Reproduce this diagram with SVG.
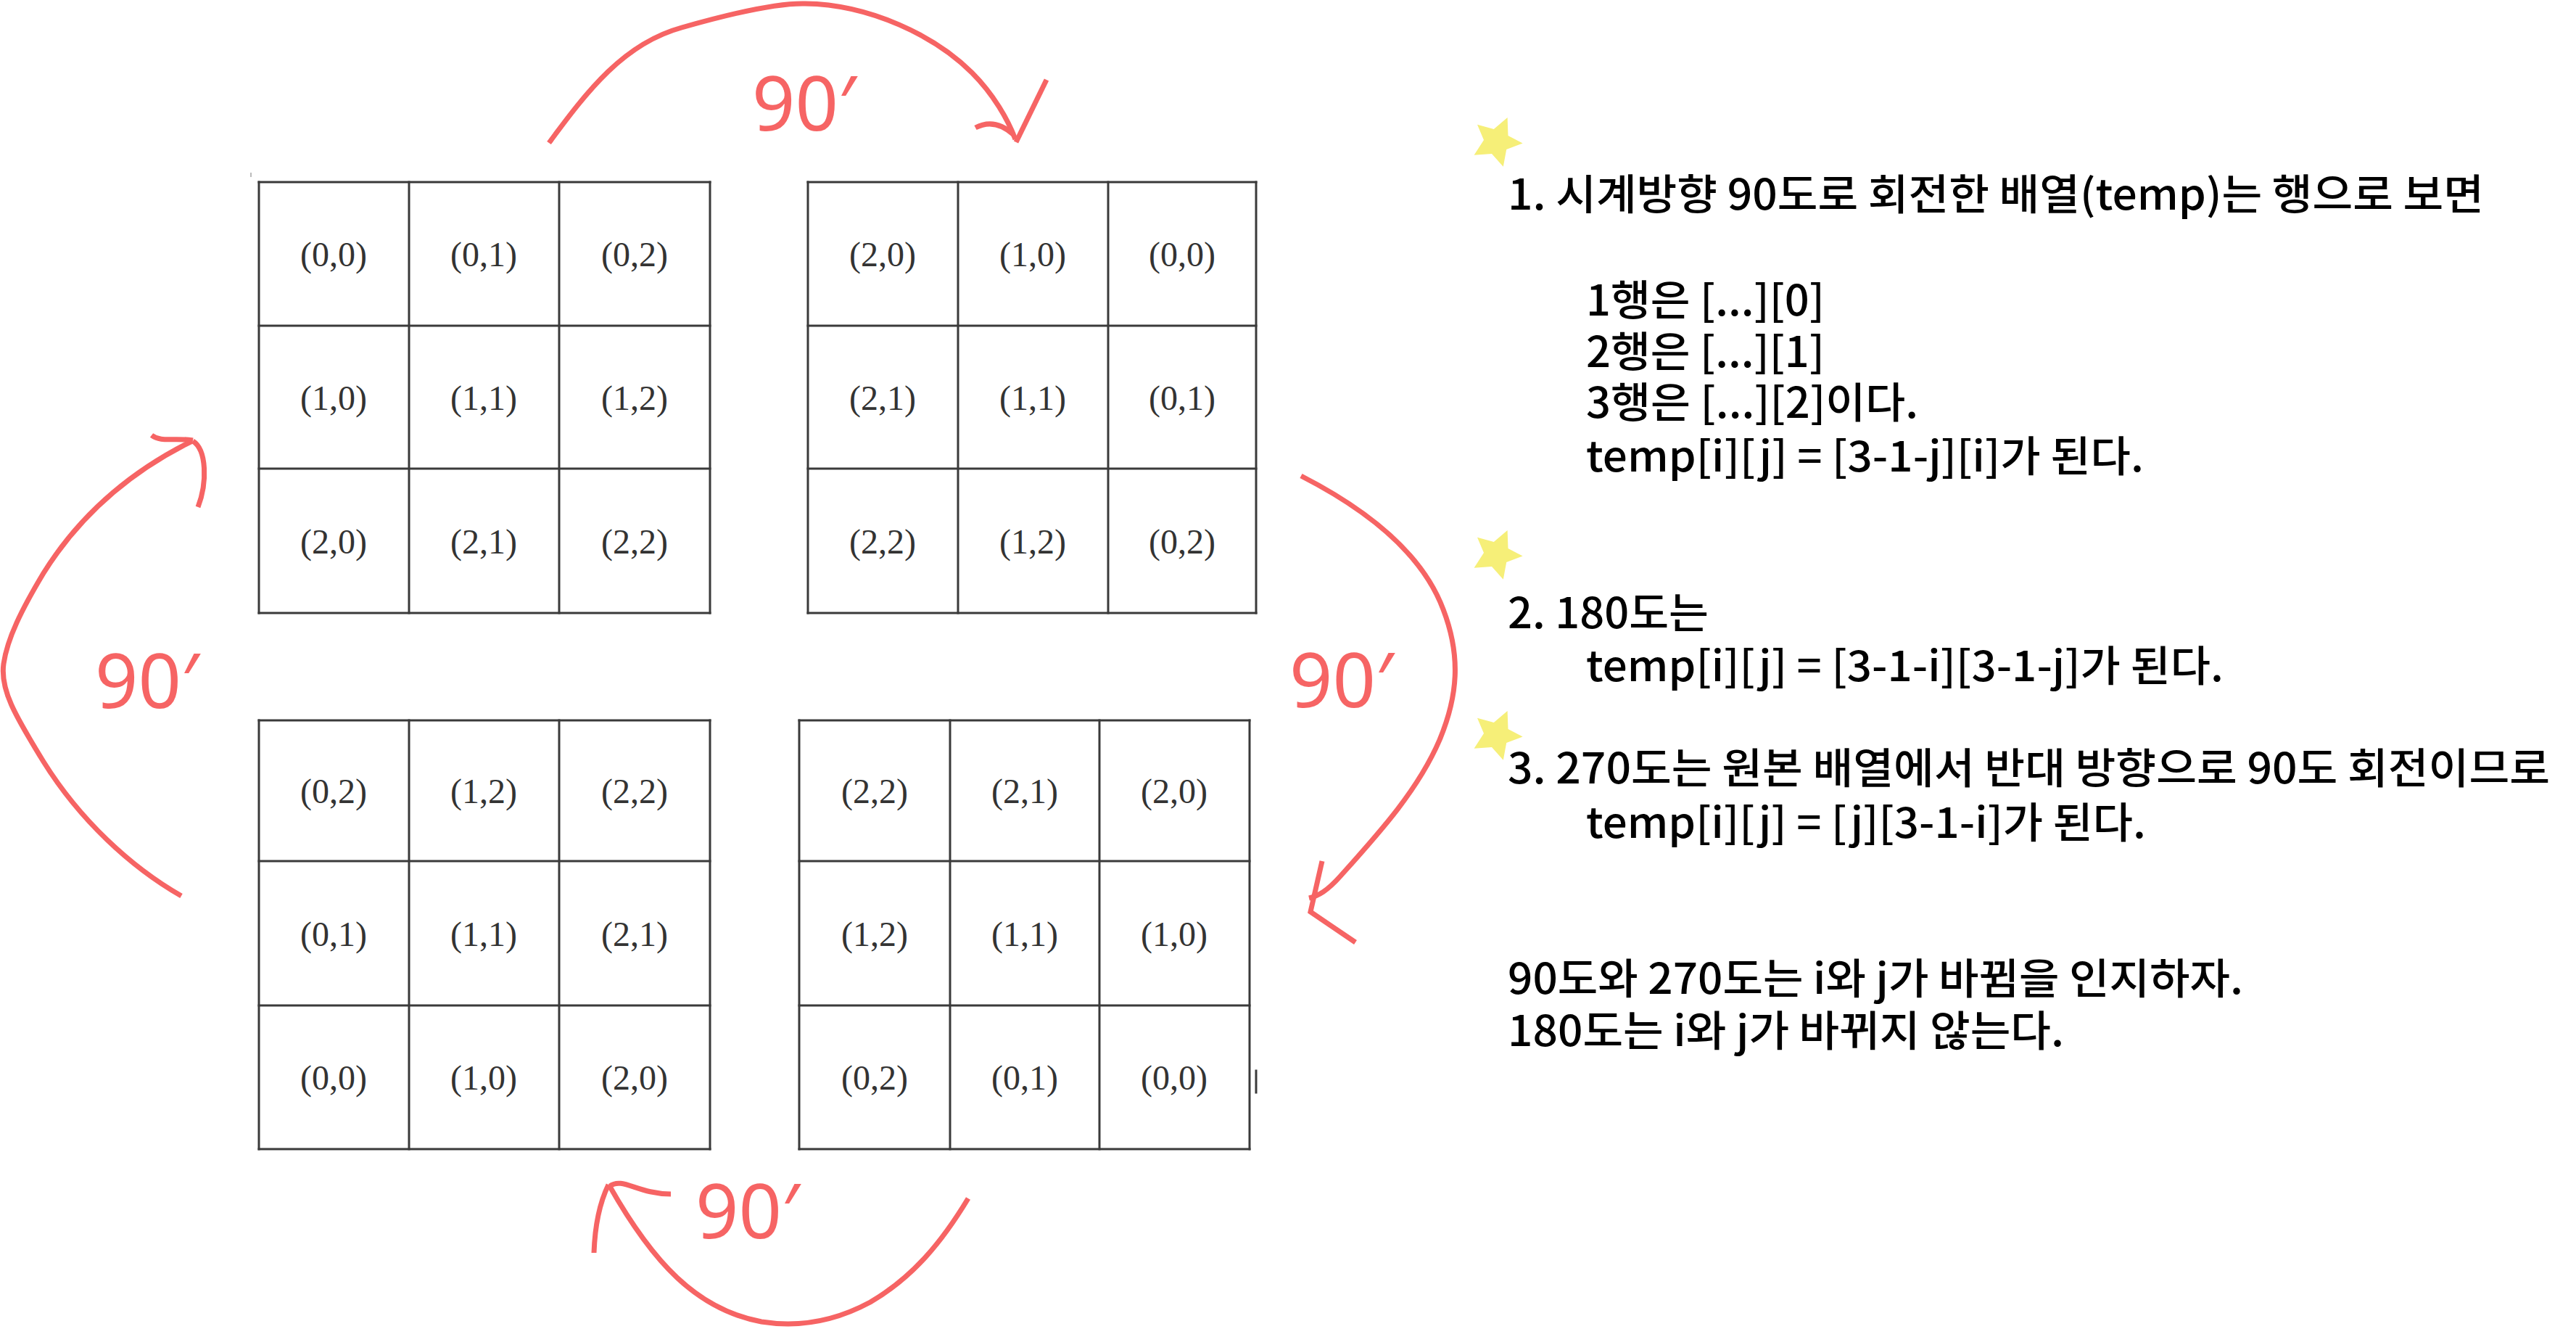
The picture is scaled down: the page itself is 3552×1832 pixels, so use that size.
<svg xmlns="http://www.w3.org/2000/svg" xmlns:xlink="http://www.w3.org/1999/xlink" width="3552" height="1832" viewBox="0 0 3552 1832">
<style>
.grid line{stroke:#3a3a3a;stroke-width:3;stroke-linecap:square}
.cell{font-family:"Liberation Serif","DejaVu Serif",serif;font-size:48px;fill:#333;text-anchor:middle}
.arc{fill:none;stroke:#f66464;stroke-width:7;stroke-linecap:butt;stroke-linejoin:miter}
.deg{font-family:"Noto Sans","Open Sans","DejaVu Sans",sans-serif;font-size:104px;fill:#f66464}
.note{font-family:"Noto Sans CJK KR","Noto Sans",sans-serif;font-size:58px;font-weight:500;fill:#000}
.star{fill:#f6ef78}
</style>
<defs>
<polygon id="star" points="14.6,-34.1 15.5,-9.1 35.6,1.6 13.2,10 8.8,33.8 -7,15.9 -31.4,17.7 -18,-3 -27,-24.3 -4.2,-18"/>
</defs>
<rect width="3552" height="1832" fill="#fff"/>
<line x1="346" y1="238" x2="346" y2="244" stroke="#bbb" stroke-width="2"/>
<g id="grid-original" class="grid">
<line x1="357" y1="251" x2="979" y2="251"/><line x1="357" y1="449" x2="979" y2="449"/><line x1="357" y1="646" x2="979" y2="646"/><line x1="357" y1="845" x2="979" y2="845"/>
<line x1="357" y1="251" x2="357" y2="845"/><line x1="564" y1="251" x2="564" y2="845"/><line x1="771" y1="251" x2="771" y2="845"/><line x1="979" y1="251" x2="979" y2="845"/>
<text class="cell" x="460" y="367">(0,0)</text><text class="cell" x="667" y="367">(0,1)</text><text class="cell" x="875" y="367">(0,2)</text>
<text class="cell" x="460" y="565">(1,0)</text><text class="cell" x="667" y="565">(1,1)</text><text class="cell" x="875" y="565">(1,2)</text>
<text class="cell" x="460" y="763">(2,0)</text><text class="cell" x="667" y="763">(2,1)</text><text class="cell" x="875" y="763">(2,2)</text>
</g>
<g id="grid-90" class="grid">
<line x1="1114" y1="251" x2="1732" y2="251"/><line x1="1114" y1="449" x2="1732" y2="449"/><line x1="1114" y1="646" x2="1732" y2="646"/><line x1="1114" y1="845" x2="1732" y2="845"/>
<line x1="1114" y1="251" x2="1114" y2="845"/><line x1="1321" y1="251" x2="1321" y2="845"/><line x1="1528" y1="251" x2="1528" y2="845"/><line x1="1732" y1="251" x2="1732" y2="845"/>
<text class="cell" x="1217" y="367">(2,0)</text><text class="cell" x="1424" y="367">(1,0)</text><text class="cell" x="1630" y="367">(0,0)</text>
<text class="cell" x="1217" y="565">(2,1)</text><text class="cell" x="1424" y="565">(1,1)</text><text class="cell" x="1630" y="565">(0,1)</text>
<text class="cell" x="1217" y="763">(2,2)</text><text class="cell" x="1424" y="763">(1,2)</text><text class="cell" x="1630" y="763">(0,2)</text>
</g>
<g id="grid-270" class="grid">
<line x1="357" y1="993" x2="979" y2="993"/><line x1="357" y1="1187" x2="979" y2="1187"/><line x1="357" y1="1386" x2="979" y2="1386"/><line x1="357" y1="1584" x2="979" y2="1584"/>
<line x1="357" y1="993" x2="357" y2="1584"/><line x1="564" y1="993" x2="564" y2="1584"/><line x1="771" y1="993" x2="771" y2="1584"/><line x1="979" y1="993" x2="979" y2="1584"/>
<text class="cell" x="460" y="1107">(0,2)</text><text class="cell" x="667" y="1107">(1,2)</text><text class="cell" x="875" y="1107">(2,2)</text>
<text class="cell" x="460" y="1304">(0,1)</text><text class="cell" x="667" y="1304">(1,1)</text><text class="cell" x="875" y="1304">(2,1)</text>
<text class="cell" x="460" y="1502">(0,0)</text><text class="cell" x="667" y="1502">(1,0)</text><text class="cell" x="875" y="1502">(2,0)</text>
</g>
<g id="grid-180" class="grid">
<line x1="1102" y1="993" x2="1723" y2="993"/><line x1="1102" y1="1187" x2="1723" y2="1187"/><line x1="1102" y1="1386" x2="1723" y2="1386"/><line x1="1102" y1="1584" x2="1723" y2="1584"/>
<line x1="1102" y1="993" x2="1102" y2="1584"/><line x1="1310" y1="993" x2="1310" y2="1584"/><line x1="1516" y1="993" x2="1516" y2="1584"/><line x1="1723" y1="993" x2="1723" y2="1584"/>
<line x1="1732" y1="1476" x2="1732" y2="1506" stroke-width="2"/>
<text class="cell" x="1206" y="1107">(2,2)</text><text class="cell" x="1413" y="1107">(2,1)</text><text class="cell" x="1619" y="1107">(2,0)</text>
<text class="cell" x="1206" y="1304">(1,2)</text><text class="cell" x="1413" y="1304">(1,1)</text><text class="cell" x="1619" y="1304">(1,0)</text>
<text class="cell" x="1206" y="1502">(0,2)</text><text class="cell" x="1413" y="1502">(0,1)</text><text class="cell" x="1619" y="1502">(0,0)</text>
</g>
<g id="connectors">
<path class="arc" d="M757,197 C810,125 860,60 940,38 C1010,18 1070,4 1110,5 C1200,6 1290,50 1340,100 C1370,130 1390,165 1400,192"/>
<path class="arc" d="M1345,176 Q1372,162 1398,186"/>
<path class="arc" d="M1401,196 L1443,110"/>
<path class="arc" d="M1794,656 C1880,700 1960,760 1990,840 C2015,905 2010,960 1985,1020 C1955,1090 1900,1150 1848,1208 C1830,1228 1818,1235 1805,1238"/>
<path class="arc" d="M1823,1187 L1807,1257 L1869,1299"/>
<path class="arc" d="M1335,1652 C1300,1710 1260,1760 1200,1795 C1150,1822 1100,1830 1050,1822 C960,1805 900,1740 840,1634"/>
<path class="arc" d="M819,1727 Q821,1670 839,1633"/>
<path class="arc" d="M841,1635 C858,1622 880,1646 925,1646"/>
<path class="arc" d="M250,1235 C180,1195 110,1130 60,1050 C20,985 0,950 5,915 C10,880 30,840 60,790 C110,710 180,650 265,608"/>
<path class="arc" d="M209,600 C222,610 240,603 266,607"/>
<path class="arc" d="M266,608 C285,620 286,665 273,699"/>
</g>
<g id="labels">
<text class="deg" x="1037" y="180">90′</text>
<text class="deg" x="1778" y="975">90′</text>
<text class="deg" x="959" y="1707">90′</text>
<text class="deg" x="131" y="976">90′</text>
</g>
<g id="stars">
<use xlink:href="#star" class="star" transform="translate(2064,196)"/>
<use xlink:href="#star" class="star" transform="translate(2064,765)"/>
<use xlink:href="#star" class="star" transform="translate(2064,1014)"/>
</g>
<g id="notes">
<text class="note" x="2079" y="289" textLength="1346" lengthAdjust="spacingAndGlyphs">1. 시계방향 90도로 회전한 배열(temp)는 행으로 보면</text>
<text class="note" x="2187" y="435" textLength="329" lengthAdjust="spacingAndGlyphs">1행은 [...][0]</text>
<text class="note" x="2187" y="506" textLength="329" lengthAdjust="spacingAndGlyphs">2행은 [...][1]</text>
<text class="note" x="2187" y="576" textLength="458" lengthAdjust="spacingAndGlyphs">3행은 [...][2]이다.</text>
<text class="note" x="2187" y="650" textLength="769" lengthAdjust="spacingAndGlyphs">temp[i][j] = [3-1-j][i]가 된다.</text>
<text class="note" x="2079" y="866" textLength="277" lengthAdjust="spacingAndGlyphs">2. 180도는</text>
<text class="note" x="2187" y="939" textLength="879" lengthAdjust="spacingAndGlyphs">temp[i][j] = [3-1-i][3-1-j]가 된다.</text>
<text class="note" x="2079" y="1080" textLength="1437" lengthAdjust="spacingAndGlyphs">3. 270도는 원본 배열에서 반대 방향으로 90도 회전이므로</text>
<text class="note" x="2187" y="1155" textLength="772" lengthAdjust="spacingAndGlyphs">temp[i][j] = [j][3-1-i]가 된다.</text>
<text class="note" x="2079" y="1370" textLength="1014" lengthAdjust="spacingAndGlyphs">90도와 270도는 i와 j가 바뀜을 인지하자.</text>
<text class="note" x="2079" y="1442" textLength="767" lengthAdjust="spacingAndGlyphs">180도는 i와 j가 바뀌지 않는다.</text>
</g>
</svg>
